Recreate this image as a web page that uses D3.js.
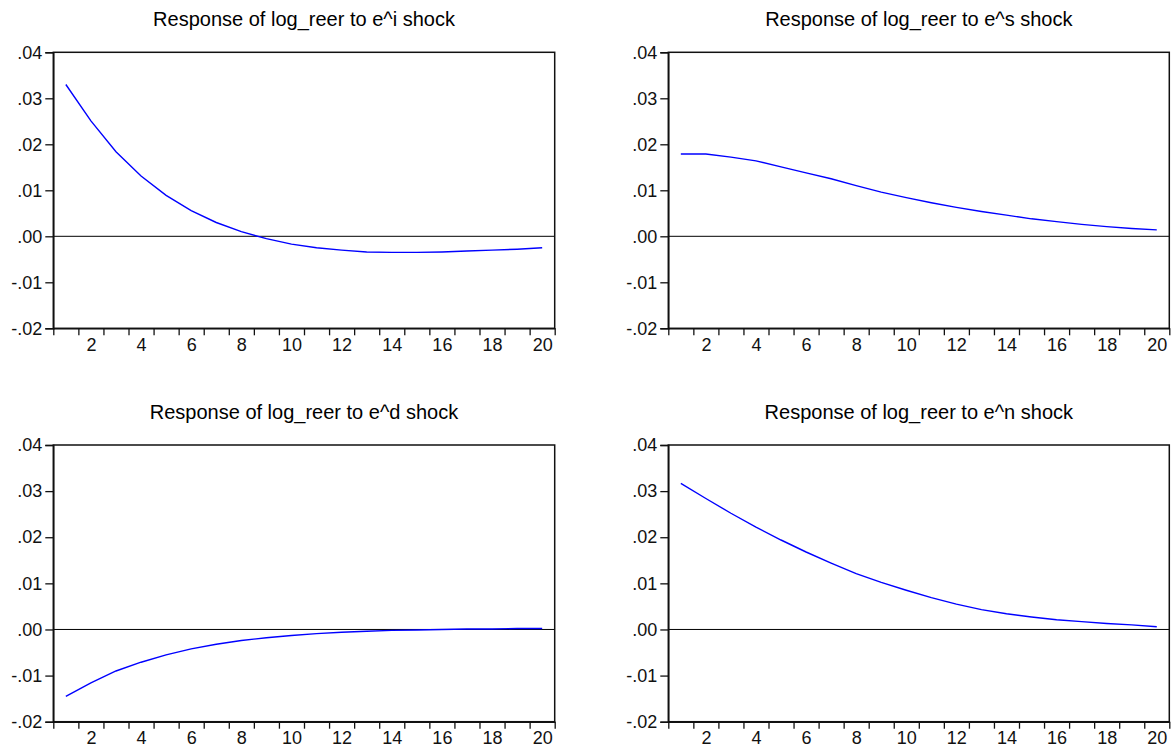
<!DOCTYPE html>
<html>
<head>
<meta charset="utf-8">
<script src="https://cdn.jsdelivr.net/npm/d3@7"></script>
<style>
  body { margin: 0; background: #fff; }
  text { font-family: "Liberation Sans", Arial, sans-serif; }
</style>
</head>
<body>
<div id="chart"></div>
<script>
// periods and tick labels
var periods = d3.range(1, 21);
var yTicks = [-0.02, -0.01, 0, 0.01, 0.02, 0.03, 0.04];
var xLabels = [2, 4, 6, 8, 10, 12, 14, 16, 18, 20];

var titles = [
  "Response of log_reer to e^i shock",
  "Response of log_reer to e^s shock",
  "Response of log_reer to e^d shock",
  "Response of log_reer to e^n shock"
];

// responses
var shockI = [0.0330, 0.0251, 0.0184, 0.0131, 0.0089, 0.0056, 0.0030, 0.0010, -0.0005, -0.0017,
              -0.0025, -0.0030, -0.0034, -0.0035, -0.0035, -0.0034, -0.0032, -0.0030, -0.0028, -0.0025];
var shockS = [0.0179, 0.0179, 0.0172, 0.0164, 0.0151, 0.0138, 0.0125, 0.0110, 0.0096, 0.0084,
              0.0073, 0.0063, 0.0054, 0.0046, 0.0038, 0.0032, 0.0026, 0.0021, 0.0017, 0.0014];
var shockD = [-0.0145, -0.0116, -0.0090, -0.0071, -0.0055, -0.0042, -0.0032, -0.0024, -0.0018, -0.0013,
              -0.0009, -0.0006, -0.0004, -0.0002, -0.0001, 0.0000, 0.0001, 0.0001, 0.0002, 0.0002];
var shockN = [0.0317, 0.0284, 0.0252, 0.0222, 0.0194, 0.0168, 0.0144, 0.0121, 0.0102, 0.0085,
              0.0069, 0.0055, 0.0043, 0.0034, 0.0027, 0.0021, 0.0017, 0.0013, 0.0010, 0.0006];

var series = [shockI, shockS, shockD, shockN];

var svg = d3.select("#chart")
  .append("svg")
    .attr("width", 1174)
    .attr("height", 747);

// panel boxes
var cols = [[53.3, 554.7], [668.3, 1169.3]];
var rows = [[52.3, 328.3], [445, 721.7]];

// EViews style: ".04", "-.01"
var fmt = function(d) {
  var s = d3.format(".2f")(d);
  return s.replace("\u2212", "-").replace("0.", ".");
};

series.forEach(function(vals, k) {
  var c = cols[k % 2], r = rows[Math.floor(k / 2)];

  var x = d3.scaleLinear().domain([0.5, 20.5]).range(c);
  var y = d3.scaleLinear().domain([-0.02, 0.04]).range([r[1], r[0]]);

  var g = svg.append("g");

  // title
  g.append("text")
    .attr("x", (c[0] + c[1]) / 2)
    .attr("y", r[0] - 26)
    .attr("text-anchor", "middle")
    .style("font-size", "20px")
    .text(titles[k]);

  // zero line
  g.append("line")
    .attr("x1", c[0]).attr("x2", c[1])
    .attr("y1", y(0)).attr("y2", y(0))
    .attr("stroke", "#000")
    .attr("stroke-width", 1);

  // frame
  g.append("rect")
    .attr("x", c[0]).attr("y", r[0])
    .attr("width", c[1] - c[0]).attr("height", r[1] - r[0])
    .attr("fill", "none")
    .attr("stroke", "#111")
    .attr("stroke-width", 1.5);

  // y axis
  var ya = g.append("g")
    .attr("transform", "translate(" + c[0] + ",0)")
    .call(d3.axisLeft(y).tickValues(yTicks).tickFormat(fmt).tickSize(8).tickPadding(3));
  ya.select(".domain").attr("stroke-width", 1.5).attr("stroke", "#111");
  ya.selectAll(".tick line").attr("stroke", "#111").attr("stroke-width", 1.3);
  ya.selectAll("text").style("font-size", "18px").attr("fill", "#111")
    .style("font-family", "Liberation Sans, Arial, sans-serif");

  // x axis: ticks between periods
  var xa = g.append("g")
    .attr("transform", "translate(0," + r[1] + ")")
    .call(d3.axisBottom(x).tickValues(d3.range(0.5, 21, 1)).tickFormat("").tickSize(7).tickSizeOuter(0));
  xa.select(".domain").attr("stroke-width", 1.5).attr("stroke", "#111");
  xa.selectAll(".tick line").attr("stroke", "#111").attr("stroke-width", 1.3);

  // x labels centred on periods
  var xl = g.append("g")
    .attr("transform", "translate(0," + r[1] + ")")
    .call(d3.axisBottom(x).tickValues(xLabels).tickFormat(d3.format("d")).tickSize(0).tickPadding(10));
  xl.select(".domain").remove();
  xl.selectAll("text").style("font-size", "18px").attr("fill", "#111")
    .style("font-family", "Liberation Sans, Arial, sans-serif");

  // response line
  var line = d3.line()
    .x(function(d, i) { return x(periods[i]); })
    .y(function(d) { return y(d); });

  g.append("path")
    .datum(vals)
    .attr("d", line)
    .attr("fill", "none")
    .attr("stroke", "#0000ff")
    .attr("stroke-width", 1.4);
});
</script>
</body>
</html>
